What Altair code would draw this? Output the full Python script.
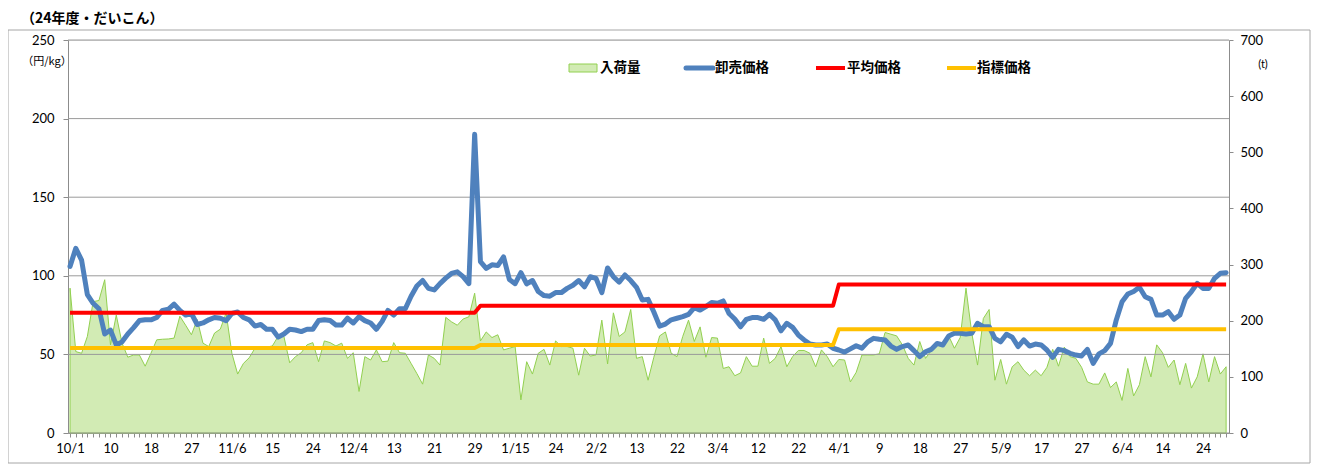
import json
import altair as alt
import pandas as pd

# ---------------- data ----------------
tick_labels = ["10/1", "10", "18", "27", "11/6", "15", "24", "12/4", "13", "21",
               "29", "1/15", "24", "2/2", "13", "22", "3/4", "12", "22", "4/1",
               "9", "18", "27", "5/9", "17", "27", "6/4", "14", "24"]

left_ticks = [0, 50, 100, 150, 200, 250]
right_ticks = [0, 100, 200, 300, 400, 500, 600, 700]

# 卸売価格 (円/kg)
price = [
    106, 117.5, 110, 88, 82.5, 79, 63, 65.5, 56, 58,
    63, 67, 71.5, 72, 72, 73.5, 78, 78.7, 82, 78,
    75, 76, 69, 70, 72, 73.5, 73, 71.5, 76, 77,
    73.5, 72, 68, 69, 66, 66, 61, 63, 66, 65.5,
    64.5, 66, 66, 71.5, 72, 71.5, 68.7, 68.7, 73, 70,
    74, 71.5, 70, 66, 71, 78, 75, 79, 79, 87,
    93.5, 97, 92, 91, 95, 98.5, 101.5, 102.5, 99.5, 95,
    190, 109, 104.7, 107, 106.5, 112, 97.7, 95, 102, 94.8,
    97, 90, 87.4, 87, 89.3, 89.3, 92, 94, 97, 93,
    99.4, 98.4, 89.3, 105, 99.4, 96, 100.5, 97, 92.7, 84.6,
    85, 77, 68, 69.3, 72, 73, 74, 75.5, 79.7, 78.2,
    80.4, 83, 82.5, 84, 76, 72.5, 67.6, 72.3, 73.4, 73.4,
    72.3, 75.5, 72, 65, 69.8, 67.2, 62.3, 59.2, 56.6, 56,
    56, 56.6, 53.9, 52.8, 51.5, 53.5, 55.5, 54, 58, 60.2,
    59.6, 59.2, 55.3, 53.2, 55, 56, 52.4, 48.6, 51.7, 53.2,
    57, 56, 61.7, 63.4, 63.4, 63, 63.4, 69.8, 67.6, 67.6,
    60.2, 58, 62.8, 60.9, 55, 59.2, 55.3, 56.6, 56, 52.8,
    48.1, 53.2, 52.4, 50.7, 49.6, 49, 53.2, 44.3, 50.3, 52.4,
    57, 71.9, 83.5, 88.4, 90, 92.7, 86.7, 85, 75, 75,
    77.2, 72.3, 75, 85.7, 90, 95.2, 92, 92, 98.4, 101.6,
    102,
]

# 入荷量 (t)
volume = [
    258, 145, 142, 172, 234, 236, 273, 157, 210, 160,
    135, 139, 139, 119, 142, 166, 167, 167.5, 169, 208,
    192, 175, 202, 160, 154, 178, 185, 214, 142, 105,
    124, 134, 151, 151, 153, 155, 172, 172, 125, 136,
    143, 157, 161, 127, 164, 161, 155, 160, 133, 143,
    74, 136, 130, 148, 127, 128, 161, 143, 142, 124,
    106, 87, 139, 133, 121, 206, 198, 192, 203, 207,
    249, 164, 180, 170, 175, 148, 151, 154, 59, 127,
    105, 142, 149, 121, 164, 154, 154, 151, 103, 151,
    137, 139, 201, 123, 214, 172, 180, 220, 133, 136,
    94, 135, 173, 180, 142, 136, 172, 201, 163, 189,
    135, 170, 169, 115, 118, 102, 107, 136, 119, 119,
    169, 124, 133, 154, 118, 136, 147, 147, 142, 118,
    148, 136, 118, 131, 130, 91, 108, 139, 139, 139,
    141, 179, 176, 173, 157, 133, 121, 163, 133, 147,
    157, 157, 173, 151, 170, 258, 178, 121, 204, 220,
    94, 131, 87, 118, 127, 112, 102, 112, 102, 117,
    149, 119, 153, 136, 133, 117, 91, 87, 87, 107,
    81, 91, 58, 115, 66, 86, 136, 100, 157, 143,
    117, 130, 86, 124, 80, 100, 141, 91, 136, 105,
    118,
]

# 平均価格 / 指標価格: constant levels per period
avg_price = [76.5] * 71 + [81] * 62 + [94.5] * 68
index_price = [54] * 71 + [56] * 62 + [66] * 68

legend_names = ["入荷量", "卸売価格", "平均価格", "指標価格"]
chart_title = "（24年度・だいこん）"
left_unit = "（円/kg）"
right_unit = "(t)"

# ---------------- build ----------------
n = len(price)
df = pd.DataFrame({"i": list(range(n)), "price": price, "volume": volume,
                   "avg": avg_price, "idx": index_price})

NUM_FONT = "Lato"
JP_FONT = "Noto Sans CJK JP"
AX_COLOR = "#8C8C8C"
GRID_COLOR = "#9A9A9A"

label_expr = ("datum.value % 7 === 0 ? " + json.dumps(tick_labels, ensure_ascii=False)
              + "[datum.value / 7] : ''")

x_enc = alt.X(
    "i:Q",
    scale=alt.Scale(domain=[-0.35, 200.5], nice=False, zero=False),
    axis=alt.Axis(values=list(range(n)), labelExpr=label_expr, labelOverlap=False,
                  labelFlush=False, grid=False, tickSize=4, tickColor=AX_COLOR,
                  domainColor=AX_COLOR, labelFont=NUM_FONT, labelFontSize=13,
                  labelColor="#000000", labelPadding=5, title=None),
)


def price_y(field):
    return alt.Y(
        f"{field}:Q",
        scale=alt.Scale(domain=[0, 250], nice=False),
        axis=alt.Axis(orient="left", values=left_ticks, grid=False,
                      tickSize=5, tickColor=AX_COLOR,
                      domainColor=AX_COLOR, labelFont=NUM_FONT, labelFontSize=13,
                      labelColor="#000000", labelPadding=9, title=None),
    )


base = alt.Chart(df)

area = base.mark_area(fill="#D2EBB4", stroke="#92D050", strokeWidth=1, opacity=1).encode(
    x=x_enc,
    y=alt.Y("volume:Q", scale=alt.Scale(domain=[0, 700], nice=False),
            axis=alt.Axis(orient="right", values=right_ticks, grid=False,
                          tickSize=4, tickColor=AX_COLOR, domainColor=AX_COLOR,
                          labelFont=NUM_FONT, labelFontSize=13, labelColor="#000000",
                          labelPadding=7, title=None)),
)

# gridlines drawn above the area but beneath the price lines (as in the reference)
grid = alt.Chart(pd.DataFrame({"g": left_ticks})).mark_rule(
    color=GRID_COLOR, strokeWidth=1).encode(y=price_y("g"))

blue = base.mark_line(color="#4F81BD", strokeWidth=5, strokeCap="round",
                      strokeJoin="round").encode(x=x_enc, y=price_y("price"))
red = base.mark_line(color="#FF0000", strokeWidth=4, strokeJoin="round").encode(
    x=x_enc, y=price_y("avg"))
yellow = base.mark_line(color="#FFC000", strokeWidth=4, strokeJoin="round").encode(
    x=x_enc, y=price_y("idx"))

prices = alt.layer(grid, blue, red, yellow)

# ---------------- decorations (legend, title, units, frame) ----------------
def one(text):
    return alt.Chart(pd.DataFrame({"t": [text]}))


def label(text, x, y, size=13, font=JP_FONT, align="left", weight="normal"):
    return one(text).mark_text(align=align, baseline="middle", font=font, fontSize=size,
                               fontWeight=weight, color="#000000").encode(
        text="t:N", x=alt.value(x), y=alt.value(y))


leg_y = 28
swatch = one("s").mark_rect(fill="#D2EBB4", stroke="#92D050", strokeWidth=1).encode(
    x=alt.value(501), x2=alt.value(529), y=alt.value(leg_y - 4), y2=alt.value(leg_y + 4))
leg_blue = one("b").mark_rule(color="#4F81BD", strokeWidth=5, strokeCap="round").encode(
    x=alt.value(618), x2=alt.value(645), y=alt.value(leg_y))
leg_red = one("r").mark_rule(color="#FF0000", strokeWidth=4).encode(
    x=alt.value(748), x2=alt.value(777), y=alt.value(leg_y))
leg_yel = one("y").mark_rule(color="#FFC000", strokeWidth=4).encode(
    x=alt.value(879), x2=alt.value(908), y=alt.value(leg_y))

legend_texts = [
    label(legend_names[0], 532, leg_y, size=13.5, weight="bold"),
    label(legend_names[1], 647, leg_y, size=13.5, weight="bold"),
    label(legend_names[2], 779, leg_y, size=13.5, weight="bold"),
    label(legend_names[3], 909, leg_y, size=13.5, weight="bold"),
]

title_mark = label(chart_title, -47, -21, size=14, weight="bold")
unit_left = label(left_unit, -21, 22, size=11, align="center")
unit_right = label(right_unit, 1195, 25, size=11, font=NUM_FONT, align="center")

frame = one("f").mark_rect(filled=False, stroke="#A6A6A6", strokeWidth=1).encode(
    x=alt.value(-60), x2=alt.value(1242), y=alt.value(-10), y2=alt.value(423))

chart = alt.layer(
    frame, area, prices, swatch, leg_blue, leg_red, leg_yel, *legend_texts,
    title_mark, unit_left, unit_right,
).resolve_scale(y="independent").properties(
    width=1161, height=393,
    autosize=alt.AutoSizeParams(type="none"),
    padding={"left": 60, "top": 32, "right": 82, "bottom": 31},
).configure_view(stroke=None).configure(background="white")

chart.save("out.html", embed_options={"renderer": "svg", "actions": False})
